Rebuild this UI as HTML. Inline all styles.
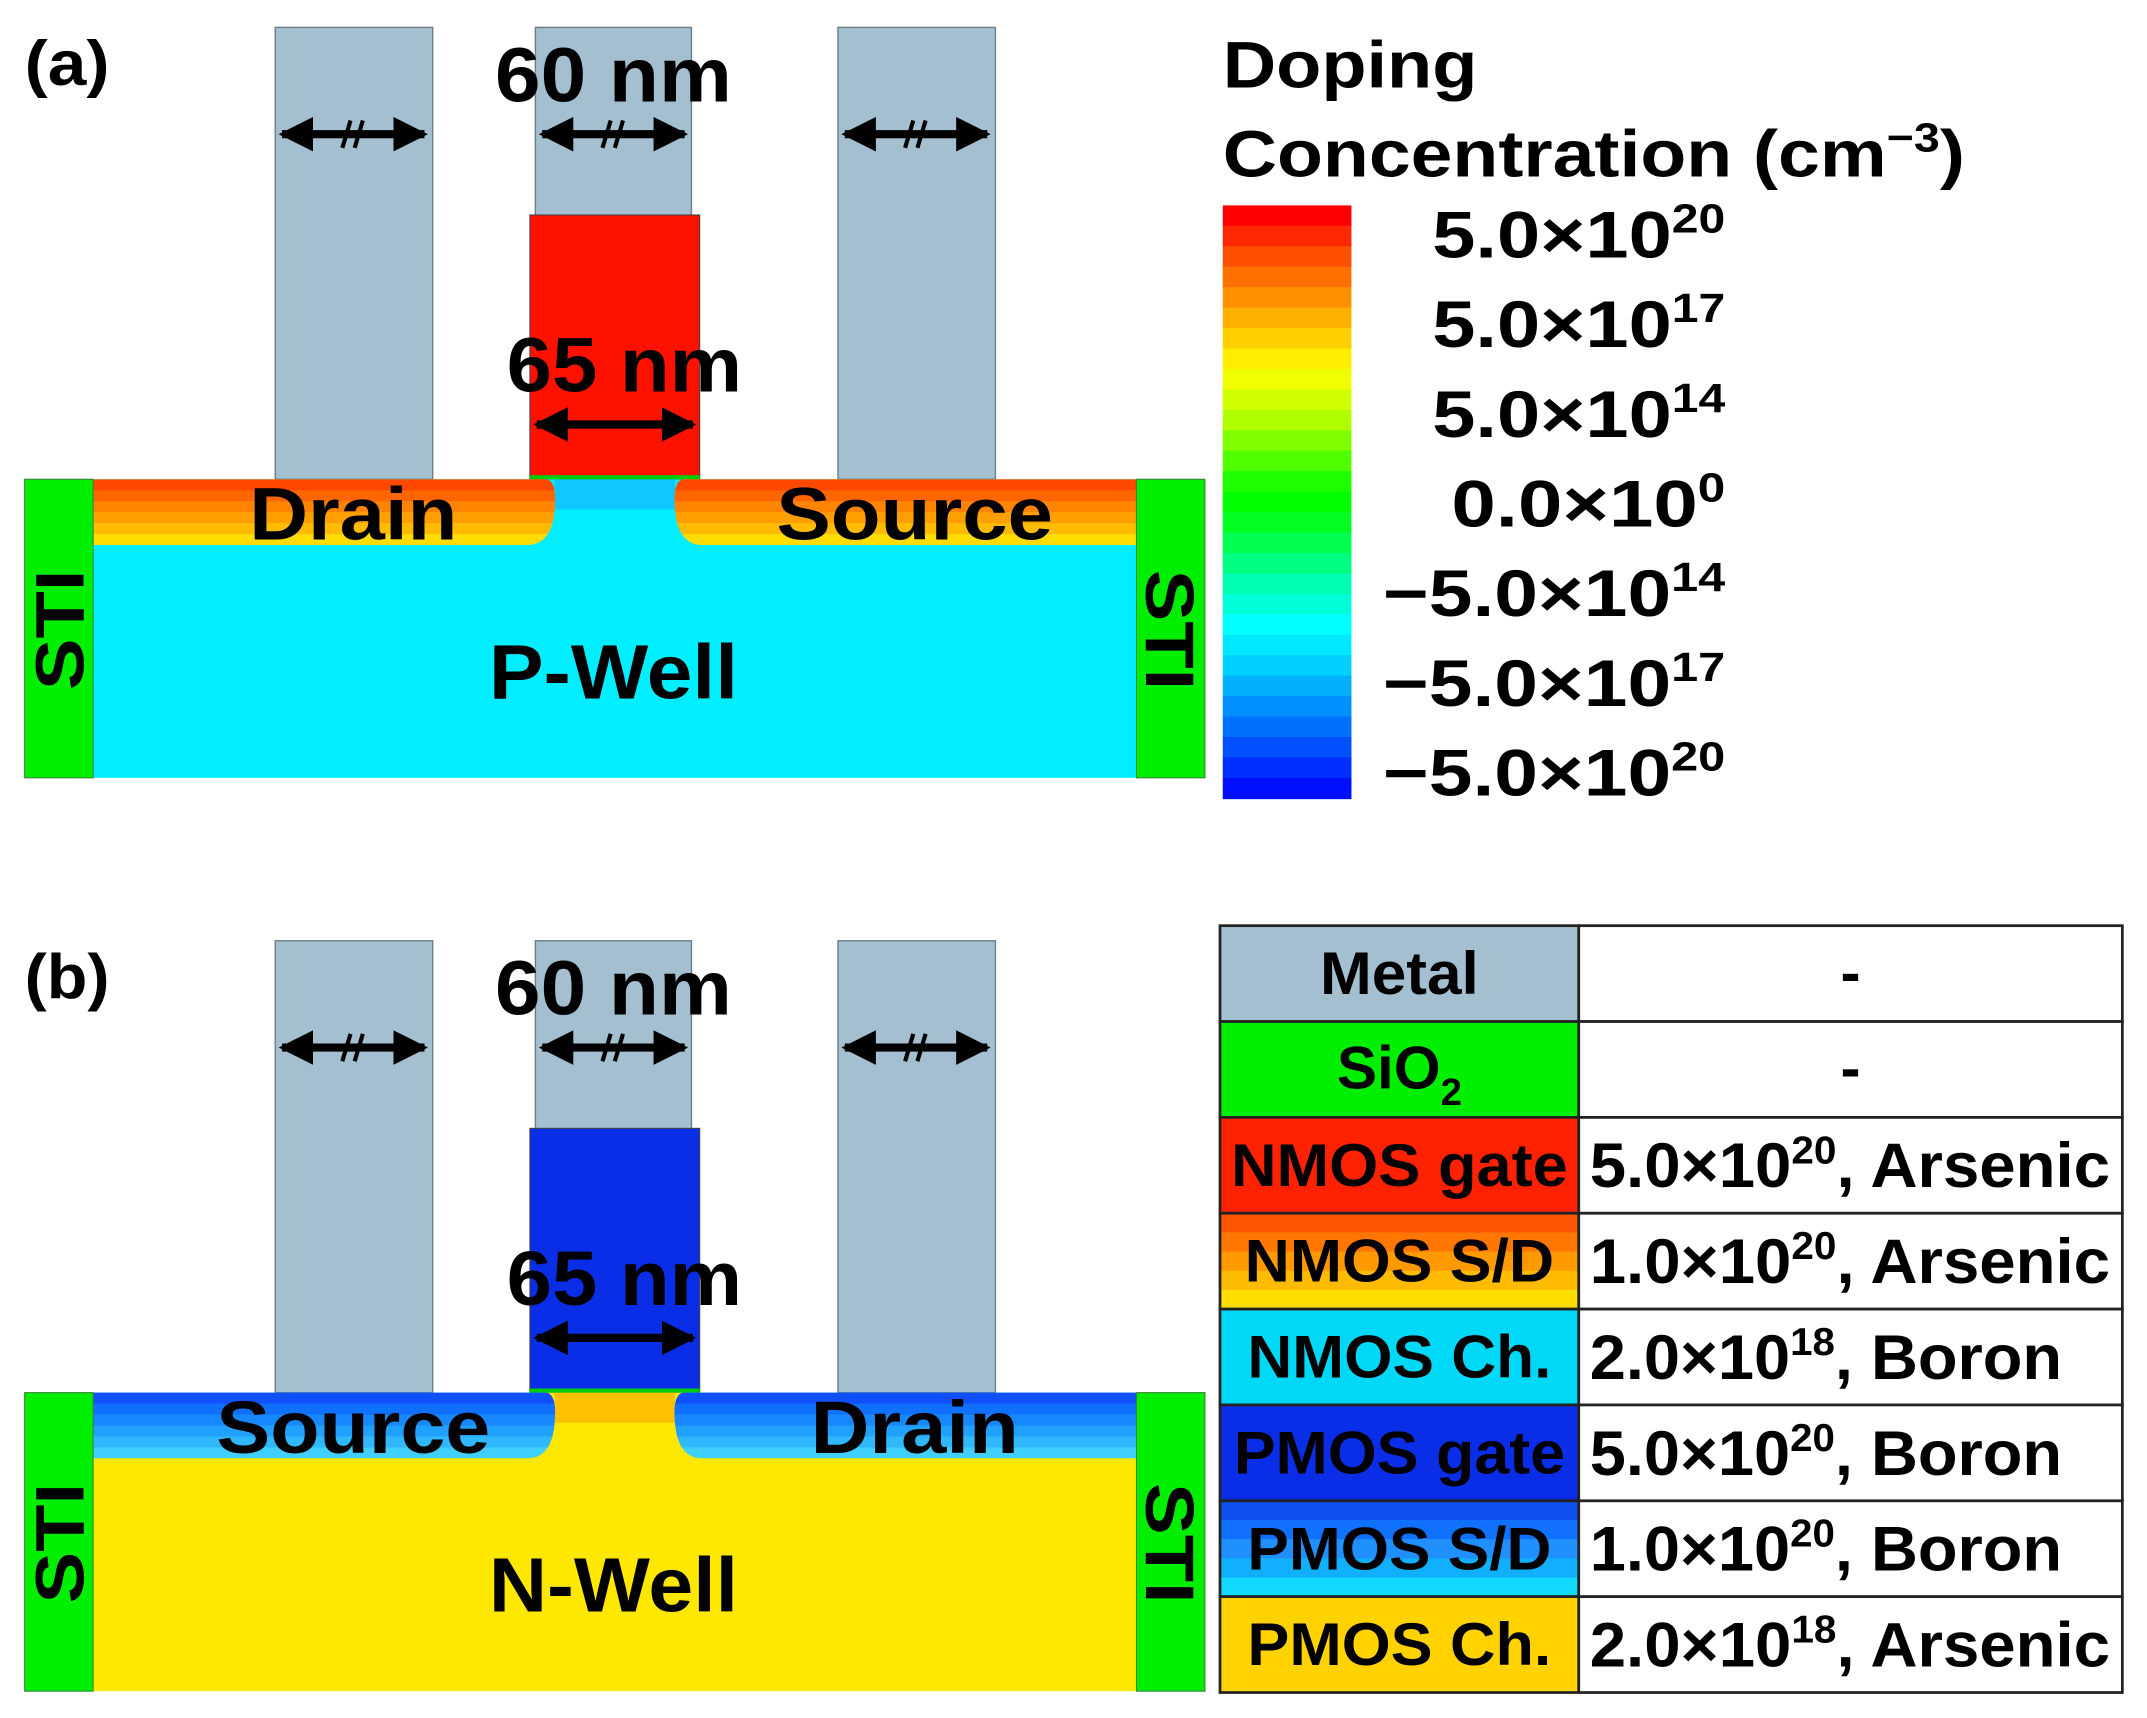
<!DOCTYPE html>
<html><head><meta charset="utf-8"><style>
html,body{margin:0;padding:0;background:#fff}
svg{display:block}
text{font-family:"Liberation Sans",Arial,sans-serif;font-weight:bold;fill:#000}
</style></head><body>
<svg id="fig" width="2147" height="1718" viewBox="0 0 1568 1254.6" preserveAspectRatio="none" xmlns="http://www.w3.org/2000/svg">
<defs>
<marker id="ah" viewBox="0 0 10 10" refX="9" refY="5" markerWidth="4.2" markerHeight="4.2" orient="auto-start-reverse"><path d="M0,0 L10,5 L0,10 Z" fill="#000"/></marker>
<clipPath id="cdL"><path d="M68,350 H398 Q407,350 405,372 Q403,398 385,398 H68 Z"/></clipPath>
<clipPath id="cdR"><path d="M830,350 H500 Q491,350 493,372 Q495,398 513,398 H830 Z"/></clipPath>
</defs>
<g id="panels"></g>
<g id="colorbar"></g>
<g id="table"></g>
</svg>
<script>
// Colorbar data
const cbTicks = ["5.0×10|20","5.0×10|17","5.0×10|14","0.0×10|0","−5.0×10|14","−5.0×10|17","−5.0×10|20"];
const cbColors = ["#ff0000","#ff2800","#ff5000","#ff7000","#ff9000","#ffb000","#ffd000","#ffee00","#f0ff00","#d0ff00","#b0ff00","#80ff00","#50ff00","#20ff00","#00ff00","#00ff20","#00ff50","#00ff80","#00ffb0","#00ffd8","#00ffff","#00e8ff","#00d0ff","#00b0ff","#0090ff","#0070ff","#0050ff","#0030ff","#0010ff"];
// Table data
const tblNames = ["Metal","SiO|2","NMOS gate","NMOS S/D","NMOS Ch.","PMOS gate","PMOS S/D","PMOS Ch."];
const tblVals = ["-","-","5.0×10|20|, Arsenic","1.0×10|20|, Arsenic","2.0×10|18|, Boron","5.0×10|20|, Boron","1.0×10|20|, Boron","2.0×10|18|, Arsenic"];
const tblFills = [["#a4bfcf"],["#00ee00"],["#ff2200"],["#ff5500","#ff7700","#ff9900","#ffbb00","#ffdd00"],["#00d8f8"],["#0a2ee8"],["#1050f0","#1070ff","#2090ff","#10b0ff","#10d8ff"],["#ffd200"]];

const NS="http://www.w3.org/2000/svg";
function mk(tag,attrs,parent){const e=document.createElementNS(NS,tag);for(const k in attrs)e.setAttribute(k,attrs[k]);parent.appendChild(e);return e;}
function supText(parent,str,x,y,fs,anchor,len){
  const t=mk('text',{x:x,y:y,'font-size':fs,'text-anchor':anchor},parent);
  if(len){t.setAttribute('textLength',len);t.setAttribute('lengthAdjust','spacingAndGlyphs');}
  const parts=str.split('|');
  parts.forEach((p,i)=>{
    const ts=mk('tspan',{},t);ts.textContent=p;
    if(i===1){ts.setAttribute('font-size',fs*0.62);ts.setAttribute('dy',-fs*0.38);}
    if(i===2){ts.setAttribute('dy',fs*0.38);}
  });
  return t;
}
const panels=document.getElementById('panels');
function panel(dy,type){
  const g=mk('g',{transform:`translate(0,${dy})`},panels);
  
  
  const well=type==='n'?'#00eeff':'#ffe800';
  const gate=type==='n'?'#ff1100':'#0a2ee8';
  const sd=type==='n'?["#ffdd00","#ffbb00","#ffa000","#ff8400","#ff6600","#ff4800"]:["#40d0ff","#30b8ff","#20a0ff","#1888ff","#1070ff","#1050ff"];
  const ch=type==='n'?'#10c8ff':'#ffc000';
  [[201,316],[391,505],[612,727]].forEach((p,i)=>{
    const r=mk('rect',{x:p[0],y:20,width:p[1]-p[0],height:330,fill:'#a4bfcf',stroke:'#6a7d88','stroke-width':1},g);
    
  });
  const gr=mk('rect',{x:387,y:157,width:124,height:193,fill:gate,stroke:'#444','stroke-width':0.8},g);
  
  const sub=mk('rect',{x:68,y:350,width:762,height:218,fill:well},g);
  
  mk('rect',{x:405,y:350,width:88,height:22,fill:ch},g);
  mk('rect',{x:387,y:347,width:124,height:3,fill:'#00cc00'},g);
  ['cdL','cdR'].forEach(c=>{
    const sg=mk('g',{'clip-path':`url(#${c})`},g);
    
    sd.forEach((col,i)=>{mk('rect',{x:60,y:350,width:780,height:48-i*8,fill:col},sg);});
  });
  [[18,68],[830,880]].forEach(s=>{
    const r=mk('rect',{x:s[0],y:350,width:50,height:218,fill:'#00ee00',stroke:'#338833','stroke-width':0.8},g);
    
  });
  [[203,313],[393,503],[614,724]].forEach(a=>{
    const l=mk('line',{x1:a[0]+3,y1:98,x2:a[1]-3,y2:98,stroke:'#000','stroke-width':6,'marker-start':'url(#ah)','marker-end':'url(#ah)'},g);
    
    const m=(a[0]+a[1])/2;
    mk('line',{x1:m-8,y1:108,x2:m-2,y2:88,stroke:'#000','stroke-width':3},g);
    mk('line',{x1:m+1,y1:108,x2:m+7,y2:88,stroke:'#000','stroke-width':3},g);
  });
  const l2=mk('line',{x1:392,y1:310,x2:506,y2:310,stroke:'#000','stroke-width':6,'marker-start':'url(#ah)','marker-end':'url(#ah)'},g);
  
  const lab=(s,x,y,fs,len,name)=>{const t=mk('text',{x:x,y:y,'font-size':fs,'text-anchor':'middle',textLength:len,lengthAdjust:'spacingAndGlyphs'},g);t.textContent=s;return t;};
  lab(type==='n'?'(a)':'(b)',49,62,46,62,'panel-label');
  lab('60 nm',448,74,56,173,'gate-length-label');
  lab('65 nm',456,286,56,172,'gate-width-label');
  lab(type==='n'?'Drain':'Source',258,394,54,type==='n'?152:200,'left-region-label');
  lab(type==='n'?'Source':'Drain',668,394,54,type==='n'?202:152,'right-region-label');
  lab(type==='n'?'P-Well':'N-Well',448,510,56,182,'well-label');
  const s1=mk('text',{x:0,y:0,'font-size':50,'text-anchor':'middle',textLength:88,lengthAdjust:'spacingAndGlyphs',transform:'translate(61,460) rotate(-90)'},g);s1.textContent='STI';
  
  const s2=mk('text',{x:0,y:0,'font-size':50,'text-anchor':'middle',textLength:88,lengthAdjust:'spacingAndGlyphs',transform:'translate(837,460) rotate(90)'},g);s2.textContent='STI';
  
}
panel(0,'n');panel(667,'p');

const cb=document.getElementById('colorbar');
const cbTop=150,cbBot=583,cbX=893,cbW=94;
const bh=(cbBot-cbTop)/cbColors.length;
cbColors.forEach((c,i)=>{
  const r=mk('rect',{x:cbX,y:cbTop+i*bh,width:cbW,height:bh+0.6,fill:c},cb);
  
  
});
const t1=mk('text',{x:893,y:64,'font-size':48,textLength:186,lengthAdjust:'spacingAndGlyphs'},cb);t1.textContent='Doping';

const t2=supText(cb,'Concentration (cm|−3|)',893,129,48,'start',542);

const step=(565-172)/(cbTicks.length-1);
cbTicks.forEach((s,i)=>{
  const y=172+i*step+16;
  const neg=s.startsWith('−');
  const t=supText(cb,s,1260,y,48,'end',neg?250:(s.startsWith('0')?200:214));
  
  
});

const tb=document.getElementById('table');
const tx0=891,tx1=1153,tx2=1550,ty0=676,rh=(1236-676)/tblNames.length;
tblNames.forEach((n,i)=>{
  const y=ty0+i*rh;
  const fills=tblFills[i];
  const sh=rh/fills.length;
  fills.forEach((f,j)=>{mk('rect',{x:tx0,y:y+j*sh,width:tx1-tx0,height:sh+0.5,fill:f},tb);});
  const c=mk('rect',{x:tx0,y:y,width:tx1-tx0,height:rh,fill:'none',stroke:'#222','stroke-width':2},tb);
  
  
  const c2=mk('rect',{x:tx1,y:y,width:tx2-tx1,height:rh,fill:'#fff',stroke:'#222','stroke-width':2},tb);
  
  
  let t;
  if(n.includes('|')){
    t=mk('text',{x:(tx0+tx1)/2,y:y+rh/2+14,'font-size':44,'text-anchor':'middle'},tb);
    const a=mk('tspan',{},t);a.textContent='SiO';
    const b=mk('tspan',{'font-size':28,dy:12},t);b.textContent='2';
  } else {
    const w={"Metal":116,"NMOS gate":246,"NMOS S/D":226,"NMOS Ch.":222,"PMOS gate":242,"PMOS S/D":222,"PMOS Ch.":222}[n];
    t=mk('text',{x:(tx0+tx1)/2,y:y+rh/2+15,'font-size':44,'text-anchor':'middle',textLength:w,lengthAdjust:'spacingAndGlyphs'},tb);
    t.textContent=n;
  }
  
  
  const v=tblVals[i];
  let vt;
  if(v==='-'){vt=mk('text',{x:(tx1+tx2)/2,y:y+rh/2+14,'font-size':44,'text-anchor':'middle'},tb);vt.textContent='-';}
  else{
    const len=v.includes('Arsenic')?380:(345);
    vt=supText(tb,v,1161,y+rh/2+16,46,'start',len);
  }
  
  
});
</script>
</body></html>
